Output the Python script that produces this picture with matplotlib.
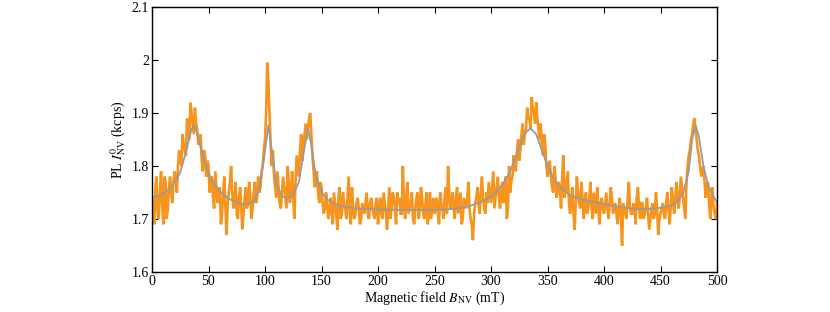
import numpy as np
import matplotlib
matplotlib.use("Agg")
import matplotlib.pyplot as plt
from matplotlib.ticker import FuncFormatter

plt.rcParams['font.family'] = ['Liberation Serif', 'DejaVu Serif']
plt.rcParams['mathtext.fontset'] = 'stix'

# Measured PL data at even fields (0, 2, ..., 500 mT)
pl_even = [
    1.74, 1.69, 1.78, 1.70, 1.79, 1.69, 1.77, 1.72, 1.78, 1.73, 1.79, 1.75, 1.83, 1.80, 1.84, 1.82, 1.87, 1.92, 1.88, 1.91, 1.87, 1.85, 1.81, 1.83, 1.78,
    1.80, 1.77, 1.74, 1.79, 1.73, 1.76, 1.71, 1.78, 1.67, 1.75, 1.80, 1.72, 1.77, 1.70, 1.76, 1.68, 1.74, 1.72, 1.77, 1.70, 1.75, 1.73, 1.78, 1.76, 1.80,
    1.85, 1.995, 1.90, 1.80, 1.78, 1.74, 1.76, 1.72, 1.78, 1.74, 1.80, 1.73, 1.79, 1.70, 1.82, 1.78, 1.86, 1.84, 1.88, 1.87, 1.90, 1.82, 1.76, 1.79, 1.73,
    1.76, 1.71, 1.75, 1.70, 1.74, 1.69, 1.73, 1.68, 1.76, 1.71, 1.73, 1.70, 1.78, 1.69, 1.72, 1.71, 1.74, 1.69, 1.73, 1.71, 1.75, 1.70, 1.74, 1.71, 1.73,
    1.69, 1.74, 1.70, 1.73, 1.68, 1.76, 1.72, 1.74, 1.69, 1.73, 1.71, 1.80, 1.70, 1.77, 1.72, 1.75, 1.69, 1.74, 1.70, 1.76, 1.71, 1.73, 1.69, 1.75, 1.72,
    1.71, 1.74, 1.69, 1.73, 1.70, 1.76, 1.80, 1.72, 1.75, 1.70, 1.76, 1.73, 1.69, 1.74, 1.72, 1.77, 1.70, 1.66, 1.73, 1.76, 1.71, 1.78, 1.72, 1.75, 1.77,
    1.73, 1.79, 1.74, 1.78, 1.72, 1.77, 1.75, 1.70, 1.80, 1.77, 1.82, 1.79, 1.85, 1.83, 1.88, 1.86, 1.91, 1.89, 1.93, 1.90, 1.92, 1.87, 1.88, 1.82, 1.84,
    1.78, 1.81, 1.76, 1.80, 1.74, 1.77, 1.72, 1.82, 1.75, 1.79, 1.71, 1.76, 1.68, 1.78, 1.73, 1.77, 1.70, 1.75, 1.72, 1.77, 1.70, 1.73, 1.76, 1.69, 1.74,
    1.71, 1.75, 1.70, 1.76, 1.71, 1.73, 1.69, 1.74, 1.65, 1.72, 1.70, 1.77, 1.71, 1.73, 1.69, 1.76, 1.70, 1.73, 1.71, 1.74, 1.68, 1.72, 1.70, 1.75, 1.67,
    1.71, 1.73, 1.70, 1.75, 1.69, 1.76, 1.71, 1.77, 1.72, 1.78, 1.74, 1.70, 1.80, 1.83, 1.86, 1.89, 1.85, 1.82, 1.78, 1.80, 1.74, 1.77, 1.70, 1.76, 1.71,
    1.73,
]
# Measured PL data at odd fields (1, 3, ..., 499 mT)
pl_odd = [
    1.72, 1.76, 1.71, 1.75, 1.73, 1.78, 1.70, 1.76, 1.75, 1.77, 1.78, 1.80, 1.81, 1.86, 1.83, 1.89, 1.85, 1.90, 1.86, 1.88, 1.84, 1.86, 1.79, 1.82, 1.81,
    1.75, 1.78, 1.72, 1.76, 1.74, 1.69, 1.75, 1.72, 1.73, 1.77, 1.75, 1.73, 1.71, 1.74, 1.72, 1.71, 1.76, 1.73, 1.74, 1.72, 1.77, 1.74, 1.75, 1.79, 1.83,
    1.90, 1.96, 1.84, 1.83, 1.76, 1.79, 1.73, 1.75, 1.76, 1.72, 1.77, 1.75, 1.74, 1.77, 1.80, 1.83, 1.81, 1.86, 1.85, 1.89, 1.86, 1.79, 1.77, 1.75, 1.77,
    1.73, 1.72, 1.73, 1.71, 1.72, 1.75, 1.71, 1.74, 1.70, 1.75, 1.72, 1.74, 1.71, 1.76, 1.70, 1.73, 1.72, 1.70, 1.72, 1.73, 1.71, 1.73, 1.72, 1.70, 1.74,
    1.72, 1.71, 1.75, 1.71, 1.72, 1.70, 1.75, 1.72, 1.75, 1.74, 1.71, 1.73, 1.74, 1.71, 1.73, 1.70, 1.72, 1.75, 1.72, 1.74, 1.70, 1.75, 1.71, 1.70, 1.74,
    1.72, 1.71, 1.75, 1.72, 1.74, 1.71, 1.75, 1.73, 1.72, 1.74, 1.71, 1.75, 1.70, 1.73, 1.74, 1.72, 1.69, 1.71, 1.74, 1.73, 1.75, 1.74, 1.71, 1.73, 1.75,
    1.76, 1.72, 1.76, 1.74, 1.75, 1.73, 1.78, 1.72, 1.75, 1.78, 1.80, 1.83, 1.81, 1.86, 1.84, 1.87, 1.89, 1.87, 1.91, 1.88, 1.89, 1.85, 1.84, 1.86, 1.80,
    1.79, 1.78, 1.75, 1.78, 1.76, 1.75, 1.78, 1.74, 1.77, 1.73, 1.74, 1.71, 1.73, 1.75, 1.72, 1.74, 1.73, 1.71, 1.74, 1.72, 1.75, 1.71, 1.72, 1.73, 1.72,
    1.73, 1.72, 1.73, 1.74, 1.72, 1.71, 1.72, 1.70, 1.73, 1.71, 1.74, 1.72, 1.71, 1.72, 1.74, 1.72, 1.73, 1.70, 1.72, 1.71, 1.70, 1.73, 1.71, 1.72, 1.70,
    1.72, 1.71, 1.73, 1.72, 1.72, 1.74, 1.73, 1.75, 1.74, 1.76, 1.72, 1.77, 1.82, 1.85, 1.88, 1.87, 1.83, 1.80, 1.79, 1.77, 1.76, 1.73, 1.74, 1.72, 1.70,
]
field_even = np.arange(len(pl_even)) * 2
field_odd = np.arange(len(pl_odd)) * 2 + 1
field_all = np.concatenate([field_even, field_odd])
pl_all = np.concatenate([pl_even, pl_odd])
order = np.argsort(field_all)
field_data = field_all[order]
pl_data = pl_all[order]

# Fitted model curve
fit_field = [0, 5, 10, 15, 20, 25, 30, 35, 37, 40, 45, 50, 55, 60, 65, 70, 75, 80, 85, 90, 95,
             100, 103, 106, 110, 115, 120, 125, 130, 135, 138, 141, 145, 150, 155, 160, 165, 170,
             180, 200, 220, 240, 260, 270, 280, 290, 300, 305, 310, 315, 320, 325, 330, 335, 340,
             345, 350, 355, 360, 370, 380, 390, 400, 410, 420, 430, 440, 450, 460, 465, 470, 475,
             478, 481, 484, 488, 492, 496, 500]
fit_pl = [1.741, 1.743, 1.748, 1.756, 1.768, 1.788, 1.826, 1.870, 1.876, 1.862, 1.818, 1.787, 1.766,
          1.752, 1.743, 1.736, 1.731, 1.728, 1.728, 1.734, 1.755, 1.828, 1.877, 1.830, 1.766, 1.743,
          1.739, 1.746, 1.770, 1.835, 1.872, 1.840, 1.781, 1.751, 1.737, 1.730, 1.726, 1.723,
          1.720, 1.718, 1.717, 1.717, 1.718, 1.720, 1.724, 1.731, 1.742, 1.752, 1.765, 1.782,
          1.805, 1.835, 1.862, 1.871, 1.860, 1.830, 1.800, 1.778, 1.762, 1.745, 1.737, 1.732,
          1.728, 1.724, 1.721, 1.719, 1.719, 1.721, 1.726, 1.733, 1.748, 1.790, 1.850, 1.877,
          1.855, 1.800, 1.765, 1.745, 1.732]

x_ticks = [0, 50, 100, 150, 200, 250, 300, 350, 400, 450, 500]
y_ticks = [1.6, 1.7, 1.8, 1.9, 2.0, 2.1]

fig = plt.figure(figsize=(8.3, 3.12), dpi=100)
ax = fig.add_axes([152/830, 1 - 272/312, (717 - 152)/830, (272 - 7)/312])

ax.plot(field_data, pl_data, color='#F7941D', lw=1.9, solid_joinstyle='miter')
ax.plot(fit_field, fit_pl, color='#9A9A9A', lw=1.3)

ax.set_xlim(0, 500)
ax.set_ylim(1.6, 2.1)
ax.set_xticks(x_ticks)
ax.set_yticks(y_ticks)
ax.yaxis.set_major_formatter(FuncFormatter(lambda v, p: f"{v:g}"))
ax.tick_params(direction='in', top=True, right=True, length=4, width=0.8, labelsize=10, pad=2)
for s in ax.spines.values():
    s.set_linewidth(1.0)

ax.set_xlabel(r'Magnetic field $B_{\mathrm{NV}}$ (mT)', fontsize=10, labelpad=1)
ax.set_ylabel(r'PL $I_{\mathrm{NV}}^{0}$ (kcps)', fontsize=10, labelpad=3)

fig.savefig('out.png', dpi=100)
